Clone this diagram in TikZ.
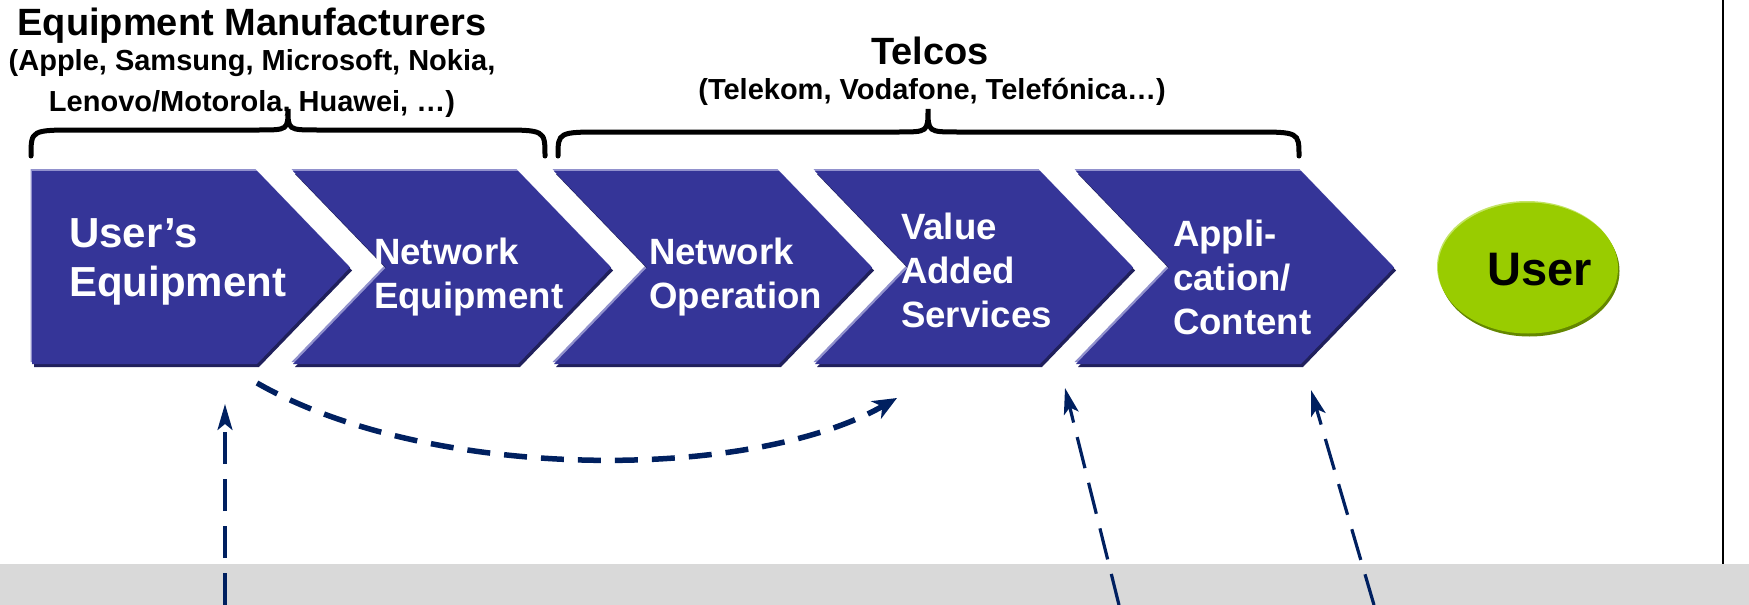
\documentclass[tikz,border=0pt]{standalone}
\usepackage{fontspec}
\setmainfont{Liberation Sans}
\usetikzlibrary{arrows.meta,shapes.geometric,shadows}

\definecolor{chevblue}{RGB}{53,53,152}
\definecolor{chevdark}{RGB}{32,32,92}
\definecolor{chevlight}{RGB}{145,145,205}
\definecolor{usergreen}{RGB}{153,204,0}
\definecolor{userdark}{RGB}{100,135,0}
\definecolor{userlight}{RGB}{195,228,100}
\definecolor{arrownavy}{RGB}{0,32,96}
\definecolor{bandgray}{RGB}{217,217,217}

\newcommand\chevfont{\fontsize{36.6}{44}\selectfont\bfseries}
\newcommand\bigchevfont{\fontsize{42}{49}\selectfont\bfseries}
\newcommand\hdfont{\fontsize{38}{44}\selectfont\bfseries}
\newcommand\subhdfont{\fontsize{29}{35}\selectfont\bfseries}
\newcommand\userfont{\fontsize{47}{54}\selectfont\bfseries}

\tikzset{
  chev/.style={fill=chevblue,
    general shadow={fill=chevlight,shadow xshift=-1.5pt,shadow yshift=2pt},
    general shadow={fill=chevdark,shadow xshift=2pt,shadow yshift=-3pt}},
  chevtext/.style={anchor=west,align=left,text=white,inner sep=0pt,font=\chevfont},
  head/.style={anchor=base,inner sep=0pt},
  brace/.style={line width=5pt,line cap=round},
  thinarrow/.style={arrownavy,line width=3.2pt,dash pattern=on 32pt off 15pt,
    -{Stealth[length=26pt,width=15pt,inset=6pt]}},
  bowarrow/.style={arrownavy,line width=5.5pt,dash pattern=on 23pt off 14pt,
    -{Stealth[length=24pt,width=20pt,inset=7pt]}},
}

\begin{document}
\begin{tikzpicture}[x=1pt,y=-1pt]
\useasboundingbox (0,0) rectangle (1749,605);
\def\ctop{171}
\def\ch{96.5}
\def\cw{225}
\def\cd{93}

% grey band and frame line
\fill[bandgray] (0,564) rectangle (1749,605);
\draw[line width=2pt] (1723,0)--(1723,564);

% chevrons
\fill[chev] (32,\ctop) -- ++(\cw,0) -- ++(\cd,\ch) -- ++(-\cd,\ch) -- ++(-\cw,0) -- cycle;
\foreach \xo in {293,554,815,1076}{
  \fill[chev] (\xo,\ctop) -- ++(\cw,0) -- ++(\cd,\ch) -- ++(-\cd,\ch)
    -- ++(-\cw,0) -- ++(\cd,-\ch) -- cycle;
}
\node[chevtext,font=\bigchevfont] (usereq) at (69,262) {User’s\\Equipment};
\node[chevtext] (neteq) at (374,277) {Network\\Equipment};
\node[chevtext] (netop) at (649,277) {Network\\Operation};
\node[chevtext] (vas) at (901,270) {Value\\Added\\Services};
\node[chevtext] (appl) at (1173,277) {Appli-\\cation/\\Content};

% user
\node[ellipse,minimum width=180pt,minimum height=131pt,fill=usergreen,
  general shadow={fill=userlight,shadow xshift=-1pt,shadow yshift=1.5pt},
  general shadow={fill=userdark,shadow xshift=1.5pt,shadow yshift=-3pt}]
  (user) at (1528,268) {};
\node[font=\userfont,inner sep=0pt] (usertxt) at (1540,270) {User};

% headings
\node[head,font=\hdfont] (mfr) at (252,35) {Equipment Manufacturers};
\node[head,font=\subhdfont] (mfrlistA) at (252,70) {(Apple, Samsung, Microsoft, Nokia,};
\node[head,font=\subhdfont] (mfrlistB) at (252,111) {Lenovo/Motorola, Huawei, …)};
\node[head,font=\hdfont] (telco) at (930,64) {Telcos};
\node[head,font=\subhdfont] (telcolist) at (932,99) {(Telekom, Vodafone, Telefónica…)};

% braces
\draw[brace] (31,156) .. controls (31,130) .. (78,130) -- (258,130)
  .. controls (288,130) .. (288,109) .. controls (288,130) .. (318,130)
  -- (498,130) .. controls (545,130) .. (545,156);
\draw[brace] (558,156) .. controls (558,132) .. (605,132) -- (898,132)
  .. controls (928,132) .. (928,109) .. controls (928,132) .. (958,132)
  -- (1252,132) .. controls (1299,132) .. (1299,156);

% dashed arrows
\coordinate (ueFrom) at (225,605);
\coordinate (ueTo) at (225,404);
\coordinate (bowFrom) at (257,383);
\coordinate (bowTo) at (897,398);
\coordinate (vasFrom) at (1119,605);
\coordinate (vasTo) at (1065,388);
\coordinate (applFrom) at (1374,605);
\coordinate (applTo) at (1311,390);
\draw[thinarrow] (ueFrom)--(ueTo);
\draw[bowarrow] (bowFrom) .. controls (430,482) and (750,482) .. (bowTo);
\draw[thinarrow] (vasFrom)--(vasTo);
\draw[thinarrow] (applFrom)--(applTo);
\end{tikzpicture}
\end{document}
